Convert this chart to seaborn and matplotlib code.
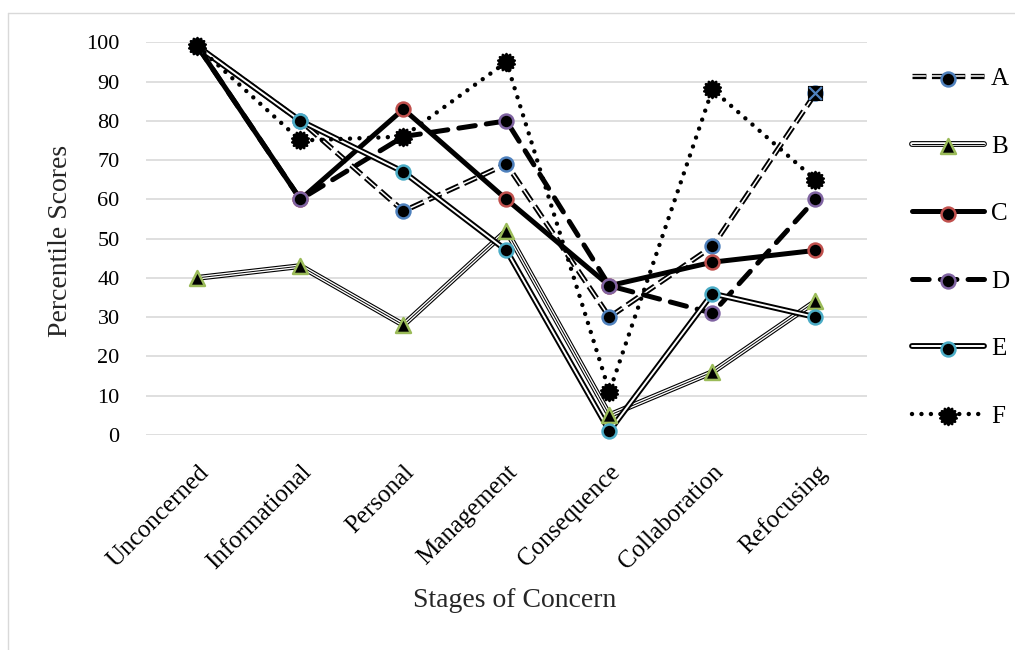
import matplotlib
matplotlib.use('Agg')
import numpy as np
import pandas as pd
import matplotlib.pyplot as plt
import matplotlib.patheffects as pe
from matplotlib.path import Path
from matplotlib.lines import Line2D
from matplotlib.legend_handler import HandlerTuple
import seaborn as sns

# Datos
stages = ['Unconcerned', 'Informational', 'Personal', 'Management',
          'Consequence', 'Collaboration', 'Refocusing']
groups = ['A', 'B', 'C', 'D', 'E', 'F']
score_a = [99, 80, 57, 69, 30, 48, 87]
score_b = [40, 43, 28, 52, 5, 16, 34]
score_c = [99, 60, 83, 60, 38, 44, 47]
score_d = [99, 60, 76, 80, 38, 31, 60]
score_e = [99, 80, 67, 47, 1, 36, 30]
score_f = [99, 75, 76, 95, 11, 88, 65]
y_ticks = list(range(0, 101, 10))

df = pd.DataFrame({
    'stage': stages * len(groups),
    'group': np.repeat(groups, len(stages)),
    'score': score_a + score_b + score_c + score_d + score_e + score_f,
})

sns.set_theme(style='white')
plt.rcParams['font.family'] = ['Liberation Serif', 'DejaVu Serif']
plt.rcParams['lines.scale_dashes'] = False
plt.rcParams['text.color'] = 'black'

line_styles = {
    'A': dict(color='white', lw=1.1, ls=(0, (10, 4)),
              path_effects=[pe.Stroke(linewidth=3.8, foreground='black'), pe.Normal()]),
    'B': dict(color='black', lw=0.7, ls='-',
              path_effects=[pe.Stroke(linewidth=4.2, foreground='black'),
                            pe.Stroke(linewidth=2.6, foreground='white'), pe.Normal()]),
    'C': dict(color='black', lw=3.6, ls='-', solid_capstyle='round'),
    'D': dict(color='black', lw=3.6, ls=(0, (12, 8)), dash_capstyle='round'),
    'E': dict(color='white', lw=1.4, ls='-',
              path_effects=[pe.Stroke(linewidth=4.2, foreground='black'), pe.Normal()]),
    'F': dict(color='black', lw=3.2, ls=(0, (0.01, 6.8)), dash_capstyle='round'),
}
marker_styles = {
    'A': dict(marker='o', edgecolor='#4F81BD', s=100),
    'B': dict(marker='^', edgecolor='#9BBB59', s=115),
    'C': dict(marker='o', edgecolor='#C0504D', s=100),
    'D': dict(marker='o', edgecolor='#8064A2', s=100),
    'E': dict(marker='o', edgecolor='#4BACC6', s=100),
    'F': dict(marker=Path.unit_regular_star(14, 0.72), edgecolor='black', s=150),
}

fig = plt.figure(figsize=(10.15, 6.5), dpi=100)
ax = fig.add_axes([0.1438, 0.331, 0.7103, 0.6038])

handles = []
for g in groups:
    sub = df[df['group'] == g]
    sns.lineplot(data=sub, x='stage', y='score', sort=False, errorbar=None,
                 ax=ax, clip_on=False, zorder=3, **line_styles[g])
    line = ax.lines[-1]
    sns.scatterplot(data=sub, x='stage', y='score', color='black', linewidth=1.8,
                    ax=ax, clip_on=False, zorder=4, **marker_styles[g])
    dots = ax.collections[-1]
    handles.append((line, dots))

# ultimo punto de A con marcador cuadrado
sns.scatterplot(x=stages[-1:], y=score_a[-1:], marker='s', color='black',
                edgecolor='black', s=105, ax=ax, clip_on=False, zorder=5)
sns.scatterplot(x=stages[-1:], y=score_a[-1:], marker='x', color='#4F81BD',
                s=85, linewidth=1.6, ax=ax, clip_on=False, zorder=6)

ax.set_xlim(-0.5, len(stages) - 0.5)
ax.set_ylim(0, 100)
ax.set_yticks(y_ticks)
ax.grid(axis='y', color='#d9d9d9', lw=1.2)
ax.grid(axis='x', visible=False)
ax.set_axisbelow(True)
for s in ax.spines.values():
    s.set_visible(False)
ax.tick_params(axis='both', length=0, colors='black')
ax.tick_params(axis='y', labelsize=16, pad=19)
ax.tick_params(axis='x', labelsize=18, pad=19)
for lab in ax.get_xticklabels():
    lab.set_rotation(45)
    lab.set_ha('right')
    lab.set_va('top')
    lab.set_rotation_mode('anchor')

ax.set_xlabel('Stages of Concern', fontsize=20, va='center')
ax.set_ylabel('Percentile Scores', fontsize=20, va='center')
ax.xaxis.set_label_coords(0.512, -0.421)
ax.yaxis.set_label_coords(-0.119, 0.494)

fig.legend(handles, groups, handler_map={tuple: HandlerTuple(ndivide=1)},
           loc='center left', bbox_to_anchor=(0.8985, 0.619), frameon=False,
           borderpad=0, borderaxespad=0, fontsize=18, labelspacing=1.8,
           handlelength=2.9, handletextpad=0.25, scatterpoints=1)

# borde del area del grafico
fig.add_artist(Line2D([8 / 1015, 1], [1 - 12.5 / 650] * 2, color='#d9d9d9', lw=1))
fig.add_artist(Line2D([8 / 1015] * 2, [0, 1 - 12.5 / 650], color='#d9d9d9', lw=1))

plt.savefig('out.png', dpi=100)
